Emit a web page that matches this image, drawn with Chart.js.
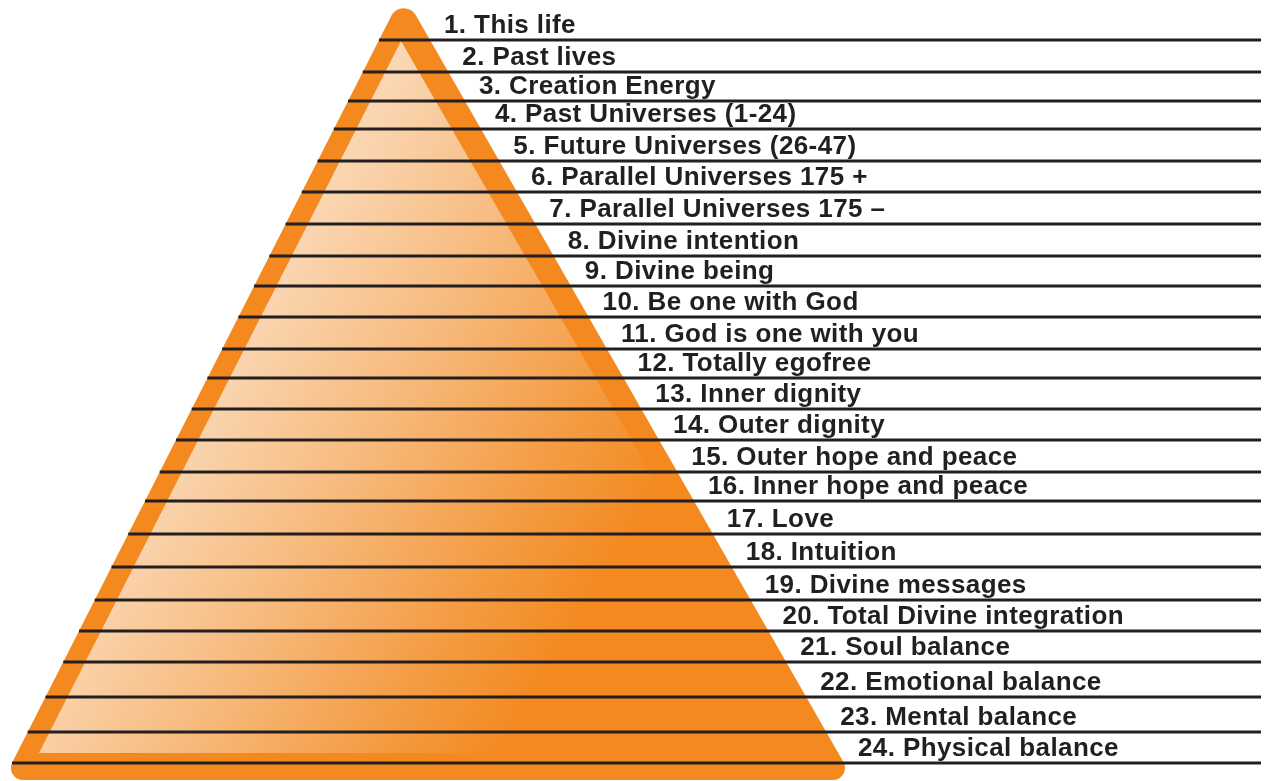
<!DOCTYPE html>
<html>
<head>
<meta charset="utf-8">
<script src="https://cdn.jsdelivr.net/npm/chart.js@4.4.1/dist/chart.umd.min.js"></script>
<style>
  html, body { margin: 0; padding: 0; background: #fff; }
  #wrap { width: 1270px; height: 781px; }
</style>
</head>
<body>
<div id="wrap"><canvas id="c" width="1270" height="781"></canvas></div>
<script>
// levels, top to bottom
const levels = [
  '1. This life', '2. Past lives', '3. Creation Energy', '4. Past Universes (1-24)',
  '5. Future Universes (26-47)', '6. Parallel Universes 175 +', '7. Parallel Universes 175 –',
  '8. Divine intention', '9. Divine being', '10. Be one with God', '11. God is one with you',
  '12. Totally egofree', '13. Inner dignity', '14. Outer dignity', '15. Outer hope and peace',
  '16. Inner hope and peace', '17. Love', '18. Intuition', '19. Divine messages',
  '20. Total Divine integration', '21. Soul balance', '22. Emotional balance',
  '23. Mental balance', '24. Physical balance'
];
// y of the rule under each level (axis units, top = 0)
const lineY = [40, 72, 101, 129, 161, 192, 224, 256, 286, 317, 349, 378,
               409, 440, 472, 501, 534, 567, 600, 631, 662, 697, 732, 763];
const lineEndX = 1261;

// pyramid edges, read at two heights
const edgeY = [40, 763];
const leftEdgeX = [379, 12];
const rightEdgeX = [430, 844];
const baseY = 780;
const innerY = [41, 753];
const innerLeftX = [401, 39];
const innerRightX = [401, 812];

const ORANGE = '#f3891f';
const INK = '#231f20';

const lerpEdge = (ys, xs) => y => xs[0] + (xs[1] - xs[0]) * (y - ys[0]) / (ys[1] - ys[0]);
const leftX = lerpEdge(edgeY, leftEdgeX);
const rightX = lerpEdge(edgeY, rightEdgeX);

// where the two outer edges meet
const sl = (leftEdgeX[1] - leftEdgeX[0]) / (edgeY[1] - edgeY[0]);
const sr = (rightEdgeX[1] - rightEdgeX[0]) / (edgeY[1] - edgeY[0]);
const apexY = edgeY[0] + (rightEdgeX[0] - leftEdgeX[0]) / (sl - sr);
const apexX = leftX(apexY);

const pyramidPlugin = {
  id: 'pyramid',
  beforeDatasetsDraw(chart) {
    const { ctx, scales: { x, y } } = chart;
    const px = v => x.getPixelForValue(v), py = v => y.getPixelForValue(v);
    const A = [px(apexX), py(apexY)];
    const L = [px(leftX(baseY)), py(baseY)];
    const R = [px(rightX(baseY)), py(baseY)];
    ctx.save();
    // outer rounded triangle
    ctx.beginPath();
    ctx.moveTo((L[0] + R[0]) / 2, L[1]);
    ctx.arcTo(R[0], R[1], A[0], A[1], 12);
    ctx.arcTo(A[0], A[1], L[0], L[1], 14);
    ctx.arcTo(L[0], L[1], R[0], R[1], 12);
    ctx.closePath();
    ctx.fillStyle = ORANGE;
    ctx.fill();
    // inner gradient triangle
    const g = ctx.createLinearGradient(px(100), py(300), px(600), py(600));
    g.addColorStop(0, '#fde4cb');
    g.addColorStop(0.25, '#fad5b0');
    g.addColorStop(0.5, '#f7bc80');
    g.addColorStop(0.8, '#f49c43');
    g.addColorStop(1, ORANGE);
    ctx.beginPath();
    ctx.moveTo(px(innerLeftX[0]), py(innerY[0]));
    ctx.lineTo(px(innerLeftX[1]), py(innerY[1]));
    ctx.lineTo(px(innerRightX[1]), py(innerY[1]));
    ctx.closePath();
    ctx.fillStyle = g;
    ctx.fill();
    ctx.restore();
  },
  afterDatasetsDraw(chart) {
    const { ctx, scales: { x, y } } = chart;
    ctx.save();
    ctx.font = 'bold 26px "Liberation Sans", Arial, sans-serif';
    ctx.letterSpacing = '0.4px';
    ctx.fillStyle = INK;
    ctx.textBaseline = 'alphabetic';
    levels.forEach((txt, i) => {
      ctx.fillText(txt, x.getPixelForValue(rightX(lineY[i]) + 14), y.getPixelForValue(lineY[i] - 7));
    });
    ctx.restore();
  }
};

const datasets = lineY.map(v => ({
  data: [{ x: leftX(v), y: v }, { x: lineEndX, y: v }],
  borderColor: INK,
  borderWidth: 3,
  pointRadius: 0,
  fill: false,
  tension: 0
}));

new Chart(document.getElementById('c'), {
  type: 'line',
  data: { datasets },
  options: {
    responsive: false,
    animation: false,
    events: [],
    layout: { padding: 0 },
    plugins: { legend: { display: false }, tooltip: { enabled: false } },
    scales: {
      x: { type: 'linear', min: 0, max: 1270, display: false },
      y: { type: 'linear', min: 0, max: 781, reverse: true, display: false }
    }
  },
  plugins: [pyramidPlugin]
});
</script>
</body>
</html>
